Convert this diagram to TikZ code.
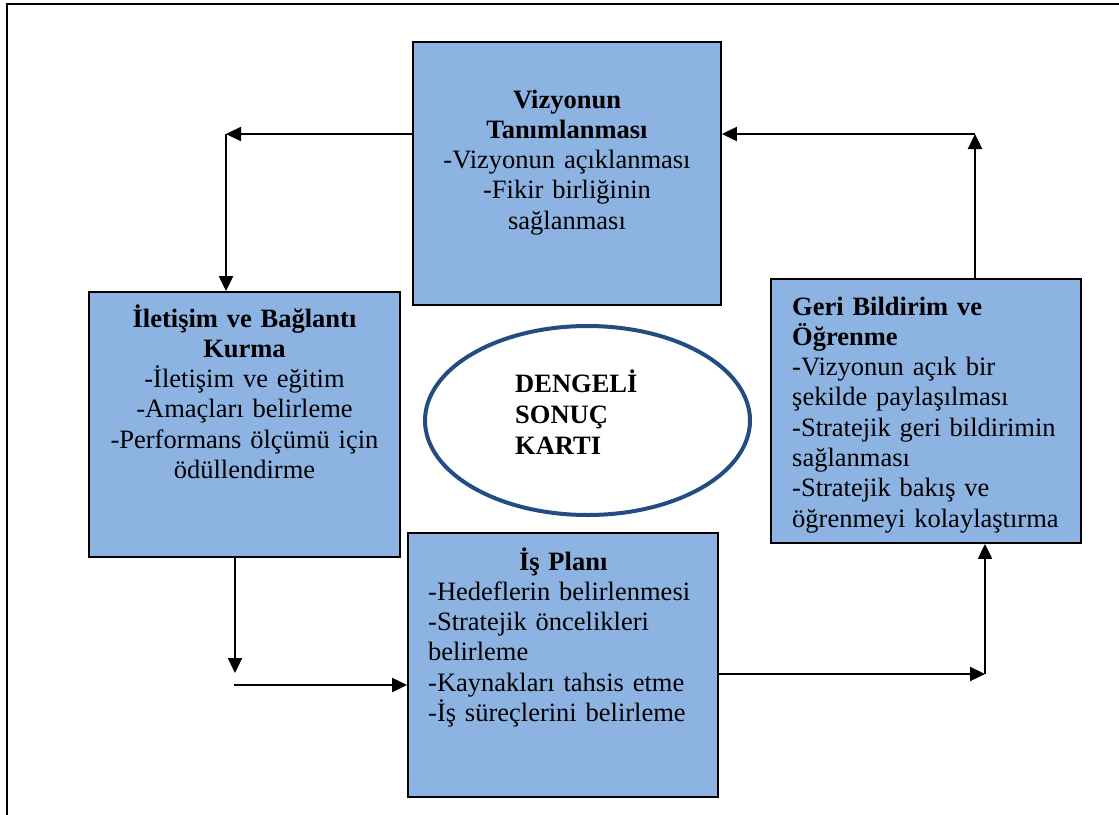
\documentclass[tikz,border=0pt]{standalone}
\usepackage{fontspec}
\setmainfont{Liberation Serif}
\usetikzlibrary{arrows.meta,shapes.geometric}
\definecolor{boxfill}{RGB}{141,179,226}
\definecolor{ringblue}{RGB}{35,76,130}
\tikzset{
  stage/.style={draw=black, line width=1.9pt, fill=boxfill, rectangle, inner sep=0pt},
  body/.style={inner sep=0pt, font=\fontsize{26.5pt}{30.3pt}\selectfont},
  arr/.style={line width=2.3pt, -{Triangle[length=15pt,width=14pt]}},
  frame/.style={line width=2.3pt}
}
\begin{document}
\begin{tikzpicture}[x=1pt,y=-1pt]
\useasboundingbox (0,0) rectangle (1119,814);

% page frame, open to the right and bottom
\draw[frame] (7,830) -- (7,4) -- (1135,4);

% the four stages
\node[stage, minimum width=308pt, minimum height=263pt] (top) at (567,173.5) {};
\node[stage, minimum width=311pt, minimum height=265pt] (left) at (244.5,424.5) {};
\node[stage, minimum width=310pt, minimum height=264pt] (right) at (926,411) {};
\node[stage, minimum width=310pt, minimum height=264pt] (bottom) at (563,665) {};

% central scorecard
\node[ellipse, draw=ringblue, line width=4pt, minimum width=325pt, minimum height=189pt, inner sep=0pt] (ell) at (587.5,420.5) {};

% texts
\node[body, text width=300pt, align=center, anchor=base] (topText) at (567,108)
  {\textbf{Vizyonun}\\ \textbf{Tanımlanması}\\ -Vizyonun açıklanması\\ -Fikir birliğinin\\ sağlanması};
\node[body, text width=305pt, align=center, anchor=base] (leftText) at (244.5,327)
  {\textbf{İletişim ve Bağlantı}\\ \textbf{Kurma}\\ -İletişim ve eğitim\\ -Amaçları belirleme\\ -Performans ölçümü için\\ ödüllendirme};
\node[body, text width=288pt, align=left, anchor=base west] (rightText) at (792,315)
  {\textbf{Geri Bildirim ve}\\ \textbf{Öğrenme}\\ -Vizyonun açık bir\\ şekilde paylaşılması\\ -Stratejik geri bildirimin\\ sağlanması\\ -Stratejik bakış ve\\ öğrenmeyi kolaylaştırma};
\node[body, text width=285pt, align=left, anchor=base west] (bottomText) at (428,570)
  {\makebox[270pt][c]{\textbf{İş Planı}}\\ -Hedeflerin belirlenmesi\\ -Stratejik öncelikleri\\ belirleme\\ -Kaynakları tahsis etme\\ -İş süreçlerini belirleme};
\node[body, text width=160pt, align=left, anchor=base west, font=\fontsize{26.5pt}{31pt}\selectfont\bfseries] (ellText) at (515,392)
  {DENGELİ\\ SONUÇ\\ KARTI};

% cycle connectors
\coordinate (c1) at (226,134);
\coordinate (c2) at (235,673);
\coordinate (c2b) at (234,685);
\coordinate (c3) at (985,674);
\coordinate (c4) at (975,134);

\draw[arr] (top.west |- c1) -- (c1);
\draw[arr] (c1) -- (left.north -| c1);
\draw[arr] (left.south -| c2) -- (c2);
\draw[arr] (c2b) -- (bottom.west |- c2b);
\draw[arr] (bottom.east |- c3) -- (c3);
\draw[arr] (c3) -- (right.south -| c3);
\draw[arr] (right.north -| c4) -- (c4);
\draw[arr] (c4) -- (top.east |- c4);
\end{tikzpicture}
\end{document}
